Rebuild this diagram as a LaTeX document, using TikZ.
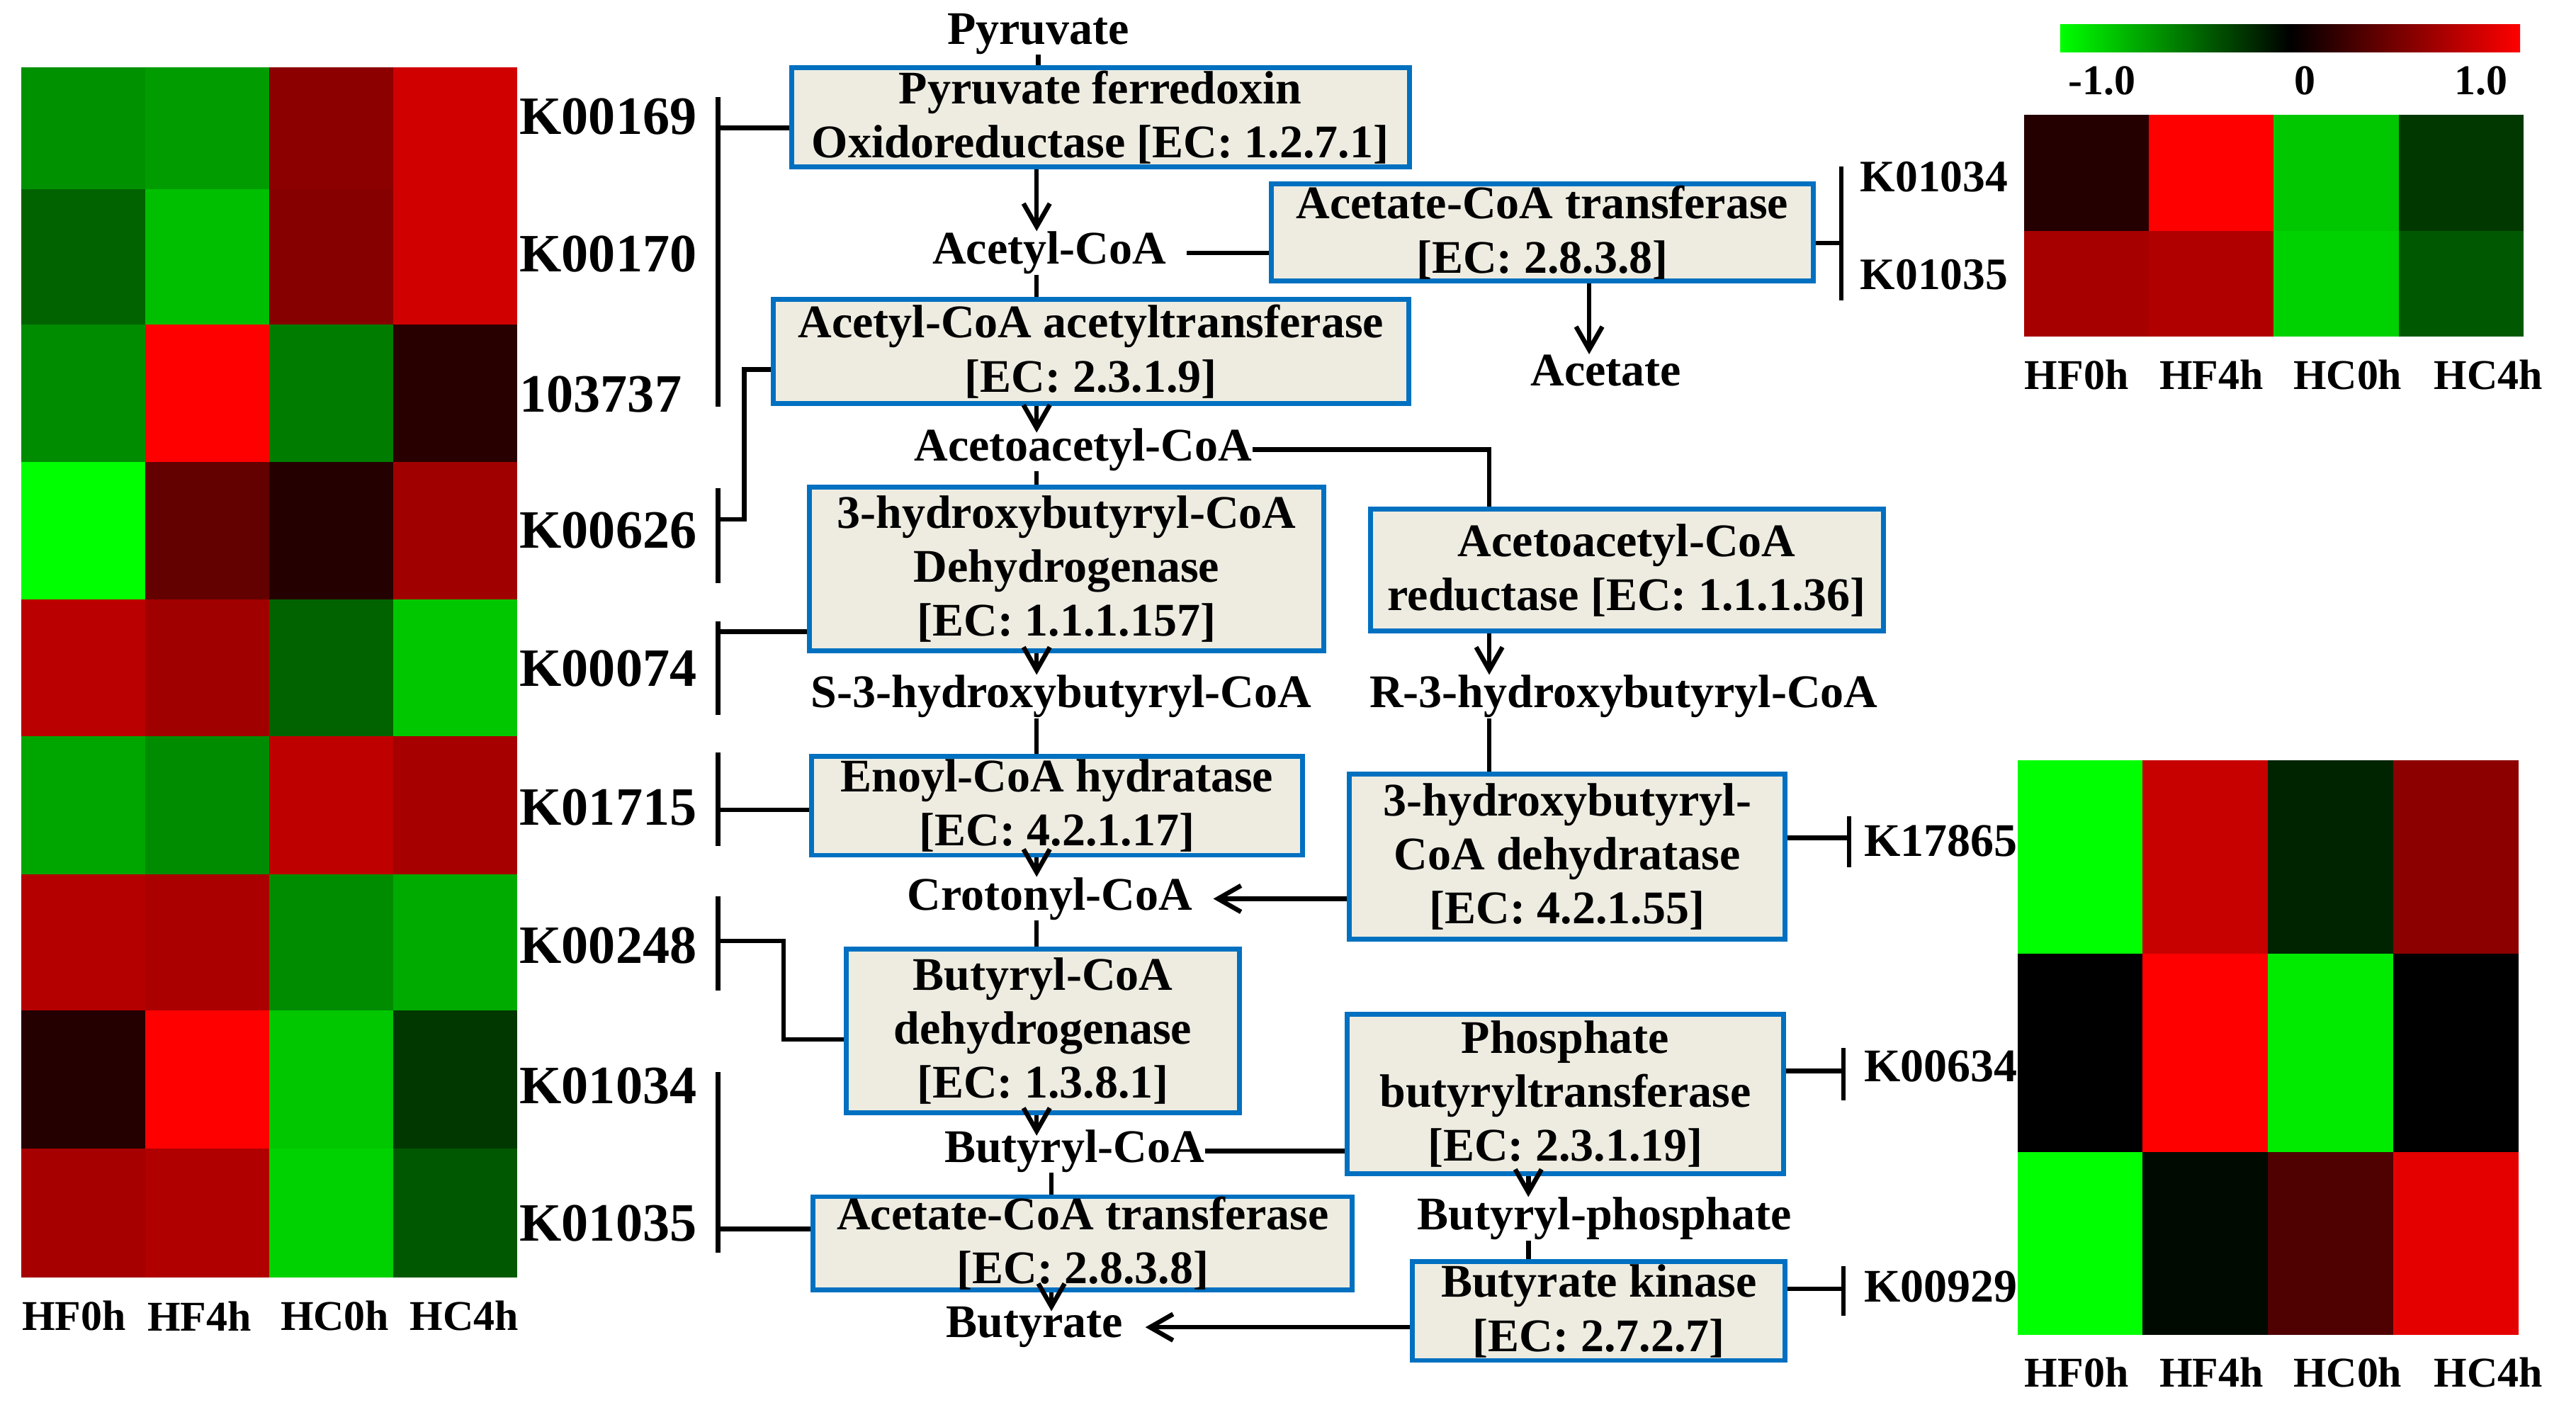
\documentclass[tikz,border=0pt]{standalone}
\usepackage{fontspec}
\setmainfont{Liberation Serif}
\usetikzlibrary{arrows.meta,calc}

\definecolor{boxfill}{RGB}{238,236,225}
\definecolor{boxline}{RGB}{0,112,192}

\begin{document}
\begin{tikzpicture}[x=0.02cm,y=-0.02cm,
  enzyme/.style={draw=boxline,fill=boxfill,line width=1.7pt,inner sep=0pt,
    align=center,font=\bfseries\fontsize{16.2}{18.7}\selectfont},
  metab/.style={inner sep=0pt,font=\bfseries\fontsize{16.2}{18.7}\selectfont},
  kleft/.style={anchor=west,inner sep=0pt,font=\bfseries\fontsize{18.7}{20}\selectfont},
  kright/.style={anchor=west,inner sep=0pt,font=\bfseries\fontsize{15.6}{18}\selectfont},
  colname/.style={inner sep=0pt,font=\bfseries\fontsize{14.7}{16}\selectfont},
  link/.style={line width=1.6pt},
  arr/.style={line width=1.6pt,-{Straight Barb[length=2.8mm,width=3.2mm]}}]

\useasboundingbox (0,0) rectangle (1568,858);

% Left heat map
\foreach \c [count=\i from 0] in {green!57!black,green!61!black,red!55!black,red!82!black}
  \fill[fill=\c] (13+75.5*\i,41) rectangle ++(75.5,74);
\foreach \c [count=\i from 0] in {green!39!black,green!75!black,red!53!black,red!82!black}
  \fill[fill=\c] (13+75.5*\i,115) rectangle ++(75.5,82.5);
\foreach \c [count=\i from 0] in {green!55!black,red!100!black,green!49!black,red!16!black}
  \fill[fill=\c] (13+75.5*\i,197.5) rectangle ++(75.5,83.5);
\foreach \c [count=\i from 0] in {green!100!black,red!39!black,red!14!black,red!63!black}
  \fill[fill=\c] (13+75.5*\i,281) rectangle ++(75.5,84);
\foreach \c [count=\i from 0] in {red!73!black,red!63!black,green!39!black,green!78!black}
  \fill[fill=\c] (13+75.5*\i,365) rectangle ++(75.5,83);
\foreach \c [count=\i from 0] in {green!65!black,green!55!black,red!75!black,red!65!black}
  \fill[fill=\c] (13+75.5*\i,448) rectangle ++(75.5,84);
\foreach \c [count=\i from 0] in {red!71!black,red!67!black,green!55!black,green!67!black}
  \fill[fill=\c] (13+75.5*\i,532) rectangle ++(75.5,83);
\foreach \c [count=\i from 0] in {red!14!black,red!100!black,green!78!black,green!22!black}
  \fill[fill=\c] (13+75.5*\i,615) rectangle ++(75.5,84);
\foreach \c [count=\i from 0] in {red!65!black,red!69!black,green!82!black,green!35!black}
  \fill[fill=\c] (13+75.5*\i,699) rectangle ++(75.5,78.5);

\node[kleft] (k00169) at (316,71) {K00169};
\node[kleft] (k00170) at (316,154.8) {K00170};
\node[kleft] (n103737) at (316,239.8) {103737};
\node[kleft] (k00626) at (316,323) {K00626};
\node[kleft] (k00074) at (316,407) {K00074};
\node[kleft] (k01715) at (316,491.5) {K01715};
\node[kleft] (k00248) at (316,575.4) {K00248};
\node[kleft] (k01034) at (316,660.7) {K01034};
\node[kleft] (k01035) at (316,744.6) {K01035};

\node[colname] (lhf0) at (45,801) {HF0h};
\node[colname] (lhf4) at (121.3,801) {HF4h};
\node[colname] (lhc0) at (203.8,801) {HC0h};
\node[colname] (lhc4) at (282.6,801) {HC4h};

% Colour scale
\shade[left color=green,right color=red,middle color=black] (1254,15) rectangle (1534,31.6);
\node[colname] (sminus) at (1279.5,49) {-1.0};
\node[colname] (szero) at (1403,49) {0};
\node[colname] (splus) at (1510,49) {1.0};

% Top right heat map
\foreach \c [count=\i from 0] in {red!14!black,red!100!black,green!78!black,green!22!black}
  \fill[fill=\c] (1232+76*\i,70) rectangle ++(76,70.7);
\foreach \c [count=\i from 0] in {red!65!black,red!69!black,green!82!black,green!35!black}
  \fill[fill=\c] (1232+76*\i,140.7) rectangle ++(76,64.3);

\node[colname] (thf0) at (1264,228) {HF0h};
\node[colname] (thf4) at (1346,228) {HF4h};
\node[colname] (thc0) at (1429,228) {HC0h};
\node[colname] (thc4) at (1514.5,228) {HC4h};

% Bottom right heat map
\foreach \c [count=\i from 0] in {green!100!black,red!78!black,green!14!black,red!55!black}
  \fill[fill=\c] (1228+76.25*\i,462.7) rectangle ++(76.25,117.7);
\foreach \c [count=\i from 0] in {black,red!100!black,green!92!black,black}
  \fill[fill=\c] (1228+76.25*\i,580.4) rectangle ++(76.25,120.8);
\foreach \c [count=\i from 0] in {green!100!black,green!4!black,red!31!black,red!90!black}
  \fill[fill=\c] (1228+76.25*\i,701.2) rectangle ++(76.25,111.1);

\node[colname] (bhf0) at (1264,835.3) {HF0h};
\node[colname] (bhf4) at (1346,835.3) {HF4h};
\node[colname] (bhc0) at (1429,835.3) {HC0h};
\node[colname] (bhc4) at (1514.5,835.3) {HC4h};

% Enzymes
\node[enzyme,minimum width=7.52cm,minimum height=1.21cm] (pfor) at (669.8,71.5)
  {Pyruvate ferredoxin\\Oxidoreductase [EC: 1.2.7.1]};
\node[enzyme,minimum width=6.6cm,minimum height=1.18cm] (act) at (938.8,141.5)
  {Acetate-CoA transferase\\{[EC: 2.8.3.8]}};
\node[enzyme,minimum width=7.74cm,minimum height=1.266cm] (acat) at (664,214)
  {Acetyl-CoA acetyltransferase\\{[EC: 2.3.1.9]}};
\node[enzyme,minimum width=6.266cm,minimum height=1.99cm] (hbd) at (649.2,346.2)
  {3-hydroxybutyryl-CoA\\Dehydrogenase\\{[EC: 1.1.1.157]}};
\node[enzyme,minimum width=6.248cm,minimum height=1.48cm] (aacr) at (990.2,347)
  {Acetoacetyl-CoA\\reductase [EC: 1.1.1.36]};
\node[enzyme,minimum width=5.976cm,minimum height=1.2cm] (ech) at (643.4,490.5)
  {Enoyl-CoA hydratase\\{[EC: 4.2.1.17]}};
\node[enzyme,minimum width=5.304cm,minimum height=2.016cm] (hbdh) at (954,521.4)
  {3-hydroxybutyryl-\\CoA dehydratase\\{[EC: 4.2.1.55]}};
\node[enzyme,minimum width=4.79cm,minimum height=1.992cm] (bcd) at (634.8,627.4)
  {Butyryl-CoA\\dehydrogenase\\{[EC: 1.3.8.1]}};
\node[enzyme,minimum width=5.312cm,minimum height=1.94cm] (ptb) at (952.8,665.8)
  {Phosphate\\butyryltransferase\\{[EC: 2.3.1.19]}};
\node[enzyme,minimum width=6.564cm,minimum height=1.11cm] (atb) at (659.1,756.7)
  {Acetate-CoA transferase\\{[EC: 2.8.3.8]}};
\node[enzyme,minimum width=4.538cm,minimum height=1.2cm] (buk) at (973.2,798)
  {Butyrate kinase\\{[EC: 2.7.2.7]}};

% Metabolites
\node[metab] (pyr) at (632,20.6) {Pyruvate};
\node[metab] (accoa) at (638.7,154) {Acetyl-CoA};
\node[metab] (acetate) at (977.6,225.5) {Acetate};
\node[metab] (aacoa) at (659.3,273.6) {Acetoacetyl-CoA};
\node[metab] (shb) at (646,424) {S-3-hydroxybutyryl-CoA};
\node[metab] (rhb) at (988.3,424) {R-3-hydroxybutyryl-CoA};
\node[metab] (crot) at (639,547) {Crotonyl-CoA};
\node[metab] (bucoa) at (654,700.5) {Butyryl-CoA};
\node[metab] (buph) at (976.7,741.8) {Butyryl-phosphate};
\node[metab] (but) at (629.6,807.8) {Butyrate};

% Pathway links
\coordinate (col) at (631,0);
\coordinate (colb) at (640,0);
\coordinate (rcol) at (906.5,0);
\coordinate (pcol) at (930.3,0);
\coordinate (acol) at (967.3,0);

\draw[link] (pyr.south) -- (pyr.south |- pfor.north);
\draw[arr] (pfor.south -| col) -- (accoa.north -| col);
\draw[link] (accoa.south -| col) -- (acat.north -| col);
\draw[link,shorten <=0.24cm] (accoa.east) -- (accoa.east -| act.west);
\draw[arr] (act.south -| acol) -- (acetate.north -| acol);
\draw[arr,shorten >=-0.06cm] (acat.south -| col) -- (aacoa.north -| col);
\draw[link] (aacoa.east) -| (aacr.north -| rcol);
\draw[link] (aacoa.south -| col) -- (hbd.north -| col);
\draw[arr] (hbd.south -| col) -- (shb.north -| col);
\draw[arr] (aacr.south -| rcol) -- (rhb.north -| rcol);
\draw[link] (shb.south -| col) -- (ech.north -| col);
\draw[arr] (ech.south -| col) -- (crot.north -| col);
\draw[link] (rhb.south -| rcol) -- (hbdh.north -| rcol);
\draw[arr,shorten >=0.25cm] (hbdh.west |- crot.east) -- (crot.east);
\draw[link] (crot.south -| col) -- (bcd.north -| col);
\draw[arr,shorten >=-0.08cm] (bcd.south -| col) -- (bucoa.north -| col);
\draw[link] (bucoa.east) -- (bucoa.east -| ptb.west);
\draw[arr] (ptb.south -| pcol) -- (buph.north -| pcol);
\draw[link] (buph.south -| pcol) -- (buk.north -| pcol);
\draw[link] (bucoa.south -| colb) -- (atb.north -| colb);
\draw[arr,shorten >=-0.06cm] (atb.south -| colb) -- (but.north -| colb);
\draw[arr,shorten >=0.27cm] (buk.west |- but.east) -- (but.east);

% Gene brackets, left
\coordinate (barL1) at (437,77.8);
\draw[link] ($(barL1)+(0,-18.8)$) -- ($(barL1)+(0,169.8)$);
\draw[link] (barL1) -- (barL1 -| pfor.west);

\coordinate (barL2) at (437,316);
\coordinate (elbowL2) at (453,225);
\draw[link] ($(barL2)+(0,-19)$) -- ($(barL2)+(0,39)$);
\draw[link] (barL2) -| (elbowL2) -- (elbowL2 -| acat.west);

\coordinate (barL3) at (437,384.5);
\draw[link] ($(barL3)+(0,-6.5)$) -- ($(barL3)+(0,50.5)$);
\draw[link] (barL3) -- (barL3 -| hbd.west);

\coordinate (barL4) at (437,493);
\draw[link] ($(barL4)+(0,-35)$) -- ($(barL4)+(0,22)$);
\draw[link] (barL4) -- (barL4 -| ech.west);

\coordinate (barL5) at (437,572.7);
\coordinate (elbowL5) at (477,632.6);
\draw[link] ($(barL5)+(0,-27)$) -- ($(barL5)+(0,30.3)$);
\draw[link] (barL5) -| (elbowL5) -- (elbowL5 -| bcd.west);

\coordinate (barL6) at (437,748);
\draw[link] ($(barL6)+(0,-95.6)$) -- ($(barL6)+(0,14.4)$);
\draw[link] (barL6) -- (barL6 -| atb.west);

% Gene brackets, right
\node[kright] (k01034r) at (1132,107.5) {K01034};
\node[kright] (k01035r) at (1132,167) {K01035};
\coordinate (barA) at (1120.8,148);
\draw[link] (act.east |- barA) -- (barA);
\draw[link] ($(barA)+(0,-46.5)$) -- ($(barA)+(0,35)$);

\node[kright,font=\bfseries\fontsize{16.2}{18}\selectfont] (k17865) at (1134.5,512) {K17865};
\coordinate (barB) at (1125.5,510);
\draw[link] (hbdh.east |- barB) -- (barB);
\draw[link] ($(barB)+(0,-13)$) -- ($(barB)+(0,18)$);

\node[kright,font=\bfseries\fontsize{16.2}{18}\selectfont] (k00634) at (1134.5,649) {K00634};
\coordinate (barC) at (1122,651.9);
\draw[link] (ptb.east |- barC) -- (barC);
\draw[link] ($(barC)+(0,-14)$) -- ($(barC)+(0,17.6)$);

\node[kright,font=\bfseries\fontsize{16.2}{18}\selectfont] (k00929) at (1134.5,783) {K00929};
\coordinate (barD) at (1122,784.4);
\draw[link] (buk.east |- barD) -- (barD);
\draw[link] ($(barD)+(0,-13.7)$) -- ($(barD)+(0,16.6)$);

\end{tikzpicture}
\end{document}
